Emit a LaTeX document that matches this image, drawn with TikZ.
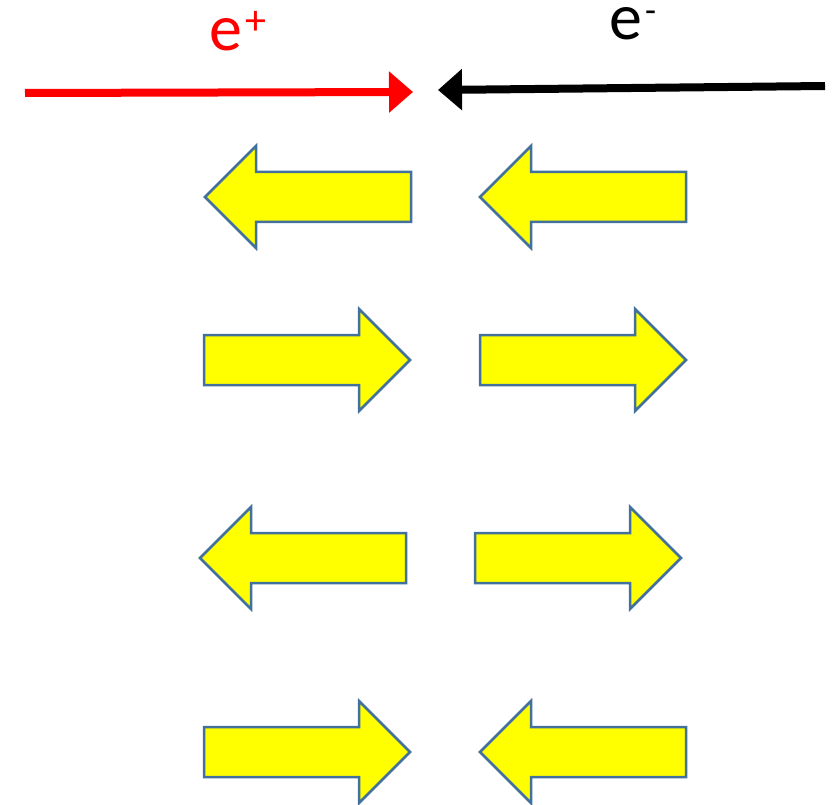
\documentclass[tikz,border=0pt]{standalone}
\usepackage{fontspec}
\setmainfont{Carlito}
\usetikzlibrary{arrows.meta}
\definecolor{outlineblue}{RGB}{65,113,156}
\definecolor{blockyellow}{RGB}{255,255,0}
\tikzset{
  blockarrow/.style={draw=outlineblue, fill=blockyellow, line width=2.5pt, line join=miter},
  beam/.style={line width=8pt},
  particle/.style={anchor=base west, inner sep=0pt, font=\fontsize{66}{70}\selectfont}
}
% right-pointing block arrow: tail x, centre y
\newcommand\RBlockArrow[2]{%
  \path[blockarrow] (#1,#2-25) -- (#1+155,#2-25) -- (#1+155,#2-51) -- (#1+206,#2)
    -- (#1+155,#2+51) -- (#1+155,#2+25) -- (#1,#2+25) -- cycle;}
% left-pointing block arrow: tip x, centre y
\newcommand\LBlockArrow[2]{%
  \path[blockarrow] (#1,#2) -- (#1+51,#2-51) -- (#1+51,#2-25) -- (#1+206,#2-25)
    -- (#1+206,#2+25) -- (#1+51,#2+25) -- (#1+51,#2+51) -- cycle;}
\begin{document}
\begin{tikzpicture}[x=1pt,y=-1pt]
\useasboundingbox (0,0) rectangle (833,805);

% beams
\coordinate (pstart) at (25,93);
\coordinate (pend) at (413,92);
\coordinate (estart) at (825,86);
\coordinate (eend) at (438,90);
\draw[beam, red, -{Triangle[length=24pt,width=40pt]}] (pstart) -- (pend);
\draw[beam, black, -{Triangle[length=24pt,width=40pt]}] (estart) -- (eend);

% labels
\node[particle, text=red] (positron) at (209,51) {e\kern3pt\raisebox{16pt}{\fontsize{42}{42}\selectfont +}};
\node[particle, text=black] (electron) at (609,40) {e\kern3pt\raisebox{17pt}{\fontsize{36}{36}\selectfont -}};

% block arrows
\LBlockArrow{205}{197}
\LBlockArrow{480}{197}

\RBlockArrow{204}{360}
\RBlockArrow{480}{360}

\LBlockArrow{200}{558}
\RBlockArrow{475}{558}

\RBlockArrow{204}{752}
\LBlockArrow{480}{752}
\end{tikzpicture}
\end{document}
